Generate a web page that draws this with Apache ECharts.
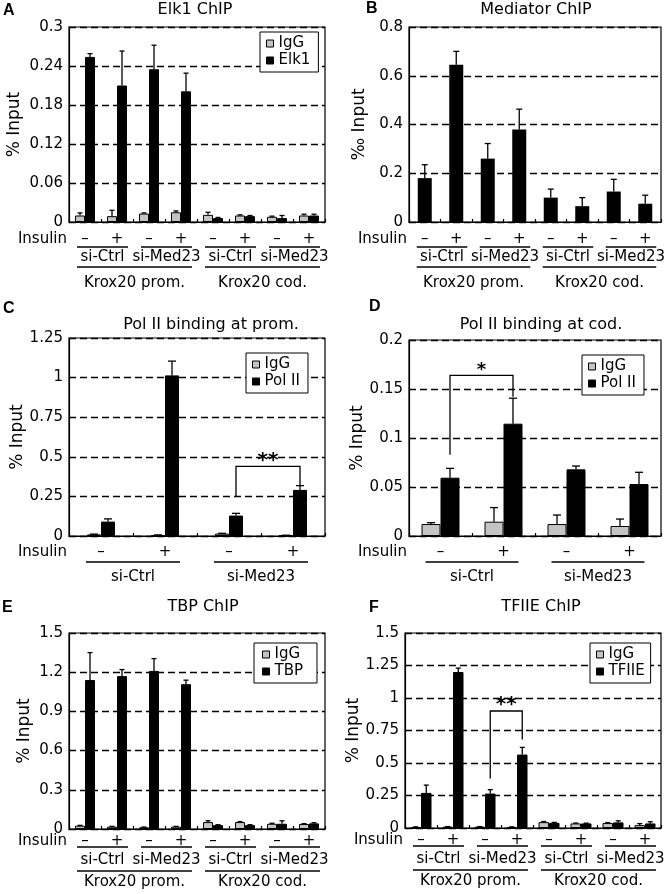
<!DOCTYPE html>
<html><head><meta charset="utf-8">
<script src="https://cdn.jsdelivr.net/npm/echarts@6/dist/echarts.min.js"></script>
<style>html,body{margin:0;padding:0;background:#fff}#c{width:672px;height:894px}</style>
</head><body><div id="c"></div>
<script>
// ---------- data ----------
const cats8 = ['prom si-Ctrl -','prom si-Ctrl +','prom si-Med23 -','prom si-Med23 +','cod si-Ctrl -','cod si-Ctrl +','cod si-Med23 -','cod si-Med23 +'];
const cats4 = ['si-Ctrl -','si-Ctrl +','si-Med23 -','si-Med23 +'];
const insulin8 = ['–','+','–','+','–','+','–','+'];
const insulin4 = ['–','+','–','+'];
const sirna4 = ['si-Ctrl','si-Med23','si-Ctrl','si-Med23'];
const sirna2 = ['si-Ctrl','si-Med23'];
const regions = ['Krox20 prom.','Krox20 cod.'];

const titles = ['Elk1 ChIP','Mediator ChIP','Pol II binding at prom.','Pol II binding at cod.','TBP ChIP','TFIIE ChIP'];
const letters = ['A','B','C','D','E','F'];
const yNames = ['% Input','‰ Input','% Input','% Input','% Input','% Input'];
const yMax = [0.3, 0.8, 1.25, 0.2, 1.5, 1.5];
const yStep = [0.06, 0.2, 0.25, 0.05, 0.3, 0.25];

// A: Elk1 ChIP
const aIgG    = [0.010,0.009,0.013,0.015,0.011,0.010,0.008,0.010];
const aIgGErr = [0.004,0.009,0.001,0.002,0.004,0.001,0.001,0.002];
const aElk1   = [0.254,0.210,0.235,0.201,0.006,0.009,0.006,0.010];
const aElk1Err= [0.005,0.053,0.037,0.028,0.001,0.001,0.004,0.002];
// B: Mediator ChIP
const bMed    = [0.18,0.645,0.26,0.38,0.10,0.065,0.125,0.075];
const bMedErr = [0.055,0.055,0.062,0.083,0.035,0.035,0.05,0.035];
// C: Pol II at promoter
const cIgG    = [0.010,0.006,0.015,0.004];
const cIgGErr = [0.002,0.001,0.002,0.001];
const cPol    = [0.091,1.014,0.129,0.291];
const cPolErr = [0.017,0.090,0.014,0.027];
// D: Pol II at coding
const dIgG    = [0.0122,0.0146,0.0122,0.0102];
const dIgGErr = [0.0014,0.0144,0.0092,0.0071];
const dPol    = [0.0595,0.1146,0.068,0.053];
const dPolErr = [0.0095,0.026,0.0034,0.012];
// E: TBP ChIP
const eIgG    = [0.025,0.018,0.013,0.018,0.053,0.053,0.040,0.038];
const eIgGErr = [0.003,0.002,0.002,0.002,0.010,0.004,0.004,0.003];
const eTBP    = [1.14,1.17,1.21,1.108,0.030,0.030,0.040,0.043];
const eTBPErr = [0.21,0.05,0.094,0.031,0.003,0.003,0.023,0.005];
// F: TFIIE ChIP
const fIgG    = [0.008,0.010,0.010,0.008,0.045,0.035,0.038,0.022];
const fIgGErr = [0.001,0.001,0.001,0.001,0.005,0.003,0.004,0.012];
const fTF     = [0.27,1.20,0.265,0.565,0.040,0.035,0.043,0.035];
const fTFErr  = [0.06,0.03,0.03,0.055,0.003,0.002,0.012,0.013];

// significance brackets: [fromCat, toCat, leftBottom, rightBottom, top]
const cBracket = [2,3,0.25,0.32,0.44];
const dBracket = [0,1,0.083,0.142,0.164];
const fBracket = [2,3,0.38,0.68,0.90];
const cStars = '**', dStars = '*', fStars = '**';

// ---------- layout / style ----------
const FONT = '"DejaVu Sans", sans-serif';
const GRAY = '#c4c4c4';
const rowsAB = {ins:17,l1:25,t1:35,l2:45,t2:61};
const rowsCD = {ins:16,l1:26,t1:41};
const rowsEF = {ins:12,l1:18,t1:31,l2:42,t2:53};
const L = [
  {grid:{left:69, top:27, width:256, height:195}, barW:10, cap:5, rows:rowsAB, padL:8, padR:11, nameGap:46, title:[195,10], letter:[3,11]},
  {grid:{left:409,top:27, width:252, height:195}, barW:14, cap:6, rows:rowsAB, padL:8, padR:11, nameGap:41, title:[536,10], letter:[366,9]},
  {grid:{left:69, top:338,width:256, height:198}, barW:14, cap:8, rows:rowsCD, padL:15, padR:15, nameGap:42, title:[211,325], letter:[3,309]},
  {grid:{left:409,top:340,width:252, height:196}, barW:19, cap:8, rows:rowsCD, padL:15, padR:15, nameGap:40, title:[541,325], letter:[369,307]},
  {grid:{left:69, top:633,width:256, height:196}, barW:10, cap:5, rows:rowsEF, padL:8, padR:11, nameGap:36, title:[203,607], letter:[2,608]},
  {grid:{left:405,top:633,width:256, height:195}, barW:10.5, cap:5, rows:rowsEF, padL:8, padR:11, nameGap:36, title:[541,607], letter:[369,608]}
];

function errRenderer(offset, cap){
  return function(params, api){
    const i = api.value(0), v = api.value(1), e = api.value(2);
    const p0 = api.coord([i, v]); const p1 = api.coord([i, v + e]);
    const x = p0[0] + offset;
    return {type:'group', children:[
      {type:'line', shape:{x1:x,y1:p0[1],x2:x,y2:p1[1]}, style:{stroke:'#000', lineWidth:1.3}},
      {type:'line', shape:{x1:x-cap/2,y1:p1[1],x2:x+cap/2,y2:p1[1]}, style:{stroke:'#000', lineWidth:1.3}}
    ]};
  };
}
function bracketRenderer(offset, label, fs){
  return function(params, api){
    const a = api.value(0), b = api.value(1);
    const xl = api.coord([a, 0])[0] + offset, xr = api.coord([b, 0])[0] + offset;
    const yl = api.coord([a, api.value(2)])[1], yr = api.coord([b, api.value(3)])[1];
    const yt = api.coord([a, api.value(4)])[1];
    return {type:'group', children:[
      {type:'polyline', shape:{points:[[xl,yl],[xl,yt],[xr,yt],[xr,yr]]}, style:{stroke:'#000', lineWidth:1.3, fill:null}},
      {type:'text', style:{text:label, x:(xl+xr)/2, y:yt+4, align:'center', verticalAlign:'bottom', font:'bold '+fs+'px '+FONT, fill:'#000'}}
    ]};
  };
}
function labelRenderer(ins, lvl1, lvl2, cfg){
  return function(params, api){
    const ch = [];
    const r = cfg.rows;
    const c0 = api.coord([0, 0]);
    const cw = api.size([1, 0])[0];
    const y0 = c0[1];
    const txt = (t, x, y, al) => ({type:'text', style:{text:t, x:x, y:y, align:al||'center', verticalAlign:'middle', font:'15px '+FONT, fill:'#000'}});
    const ln = (x1, x2, y) => ({type:'line', shape:{x1:x1,y1:y,x2:x2,y2:y}, style:{stroke:'#000', lineWidth:1.3}});
    ch.push(txt('Insulin', c0[0] - cw/2 - 2, y0 + r.ins, 'right'));
    ins.forEach((t, i) => ch.push(txt(t, api.coord([i,0])[0], y0 + r.ins)));
    const span1 = ins.length / lvl1.length;
    lvl1.forEach((t, j) => {
      const xs = api.coord([j*span1,0])[0] - cfg.padL, xe = api.coord([j*span1+span1-1,0])[0] + cfg.padR;
      ch.push(ln(xs, xe, y0 + r.l1));
      ch.push(txt(t, (xs+xe)/2, y0 + r.t1));
    });
    if (lvl2) {
      const span2 = ins.length / lvl2.length;
      lvl2.forEach((t, j) => {
        const xs = api.coord([j*span2,0])[0] - cfg.padL, xe = api.coord([j*span2+span2-1,0])[0] + cfg.padR;
        ch.push(ln(xs, xe, y0 + r.l2));
        ch.push(txt(t, (xs+xe)/2, y0 + r.t2));
      });
    }
    return {type:'group', children:ch};
  };
}

const grids = [], xAxes = [], yAxes = [], series = [], graphics = [];
const catsList = [cats8, cats8, cats4, cats4, cats8, cats8];
L.forEach((cfg, k) => {
  grids.push(Object.assign({show:true, borderColor:'#000', borderWidth:1.2, backgroundColor:'#fff', containLabel:false, outerBoundsMode:'none'}, cfg.grid));
  xAxes.push({type:'category', gridIndex:k, data:catsList[k], boundaryGap:true,
    axisLine:{show:true, lineStyle:{color:'#000', width:1.2}},
    axisTick:{show:true, inside:true, length:3, interval:0, lineStyle:{color:'#000', width:1.2}},
    axisLabel:{show:false}, splitLine:{show:false}});
  const dec = yStep[k] < 0.1 ? 2 : 2;
  yAxes.push({type:'value', gridIndex:k, min:0, max:yMax[k], interval:yStep[k],
    axisLine:{show:true, lineStyle:{color:'#000', width:1.2}}, axisTick:{show:false},
    axisLabel:{color:'#000', fontSize:15, fontFamily:FONT, margin:6, formatter:v => String(+v.toFixed(3))},
    splitLine:{show:true, lineStyle:{type:[7,4], color:'#000', width:1.3}},
    name:yNames[k], nameLocation:'middle', nameGap:cfg.nameGap,
    nameTextStyle:{color:'#000', fontSize:17, fontFamily:FONT}});
  graphics.push({type:'text', left:cfg.title[0], top:cfg.title[1], style:{text:titles[k], x:cfg.title[0], y:cfg.title[1], font:'16px '+FONT, fill:'#000', align:'center', verticalAlign:'middle'}});
  graphics.push({type:'text', style:{text:letters[k], x:cfg.letter[0], y:cfg.letter[1], font:'bold 16px "Liberation Sans", Arial, sans-serif', fill:'#000', align:'left', verticalAlign:'middle'}});
});
// titles via graphic: use x/y only
graphics.forEach(g => { delete g.left; delete g.top; });

function addPair(k, igg, iggErr, name2, v2, v2Err){
  const w = L[k].barW;
  series.push({type:'bar', name:'IgG', xAxisIndex:k, yAxisIndex:k, data:igg, barWidth:w, barGap:'0%',
    itemStyle:{color:GRAY, borderColor:'#000', borderWidth:1}, z:2, silent:true});
  series.push({type:'bar', name:name2, xAxisIndex:k, yAxisIndex:k, data:v2, barWidth:w, barGap:'0%',
    itemStyle:{color:'#000', borderColor:'#000', borderWidth:1}, z:2, silent:true});
  series.push({type:'custom', name:'errIgG'+k, xAxisIndex:k, yAxisIndex:k, clip:false, z:3, silent:true,
    data:igg.map((v,i)=>[i,v,iggErr[i]]), encode:{x:0,y:1}, renderItem:errRenderer(-w/2, L[k].cap)});
  series.push({type:'custom', name:'err'+name2+k, xAxisIndex:k, yAxisIndex:k, clip:false, z:3, silent:true,
    data:v2.map((v,i)=>[i,v,v2Err[i]]), encode:{x:0,y:1}, renderItem:errRenderer(w/2, L[k].cap)});
}
addPair(0, aIgG, aIgGErr, 'Elk1', aElk1, aElk1Err);
series.push({type:'bar', name:'Mediator', xAxisIndex:1, yAxisIndex:1, data:bMed, barWidth:L[1].barW,
  itemStyle:{color:'#000'}, z:2, silent:true});
series.push({type:'custom', name:'errMed', xAxisIndex:1, yAxisIndex:1, clip:false, z:3, silent:true,
  data:bMed.map((v,i)=>[i,v,bMedErr[i]]), encode:{x:0,y:1}, renderItem:errRenderer(0, L[1].cap)});
addPair(2, cIgG, cIgGErr, 'Pol II', cPol, cPolErr);
addPair(3, dIgG, dIgGErr, 'Pol II', dPol, dPolErr);
addPair(4, eIgG, eIgGErr, 'TBP', eTBP, eTBPErr);
addPair(5, fIgG, fIgGErr, 'TFIIE', fTF, fTFErr);

// brackets
[[2,cBracket,cStars,20],[3,dBracket,dStars,18],[5,fBracket,fStars,20]].forEach(([k,b,s,fs]) => {
  series.push({type:'custom', name:'sig'+k, xAxisIndex:k, yAxisIndex:k, clip:false, z:4, silent:true,
    data:[b], encode:{x:0,y:2}, renderItem:bracketRenderer(L[k].barW/2, s, fs)});
});
// x label rows
const rowDefs = [[insulin8,sirna4,regions],[insulin8,sirna4,regions],[insulin4,sirna2,null],[insulin4,sirna2,null],[insulin8,sirna4,regions],[insulin8,sirna4,regions]];
rowDefs.forEach(([a,b,c],k) => {
  series.push({type:'custom', name:'rows'+k, xAxisIndex:k, yAxisIndex:k, clip:false, z:4, silent:true,
    data:[[0,0]], encode:{x:0,y:1}, renderItem:labelRenderer(a,b,c,L[k])});
});

const legendBase = {orient:'vertical', icon:'rect', itemWidth:7, itemHeight:7, itemGap:0, itemStyle:{borderColor:'#000', borderWidth:1},
  borderColor:'#000', borderWidth:1, backgroundColor:'#fff', selectedMode:false, z:10,
  textStyle:{color:'#000', fontSize:15, fontFamily:FONT, lineHeight:17}};
const legends = [
  Object.assign({}, legendBase, {data:['IgG','Elk1'], left:260, top:32, padding:[3,8,3,6]}),
  Object.assign({}, legendBase, {data:['IgG','Pol II'], left:246, top:353, padding:[3,8,3,6]}),
  Object.assign({}, legendBase, {data:['IgG','Pol II'], left:582, top:355, padding:[3,8,3,6]}),
  Object.assign({}, legendBase, {data:['IgG','TBP'], left:254, top:643, padding:[3,14,3,8]}),
  Object.assign({}, legendBase, {data:['IgG','TFIIE'], left:590, top:643, padding:[3,6,3,6]})
];

const chart = echarts.init(document.getElementById('c'), null, {renderer:'canvas'});
chart.setOption({
  animation:false, backgroundColor:'#fff',
  textStyle:{fontFamily:FONT},
  grid:grids, xAxis:xAxes, yAxis:yAxes, series:series, legend:legends, graphic:graphics
});
</script></body></html>
